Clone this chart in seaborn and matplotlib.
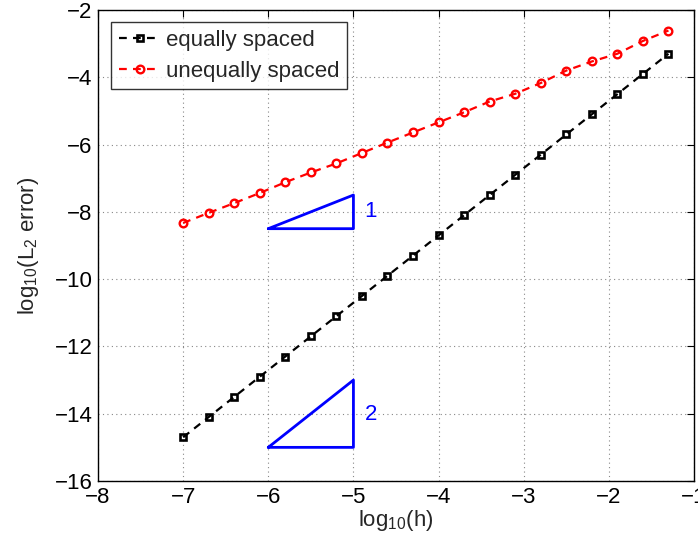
import numpy as np
import pandas as pd
import matplotlib
matplotlib.use("Agg")
import matplotlib.pyplot as plt
import seaborn as sns

log_h = [-7.0, -6.7, -6.4, -6.1, -5.8, -5.5, -5.2, -4.9, -4.6, -4.3,
         -4.0, -3.7, -3.4, -3.1, -2.8, -2.5, -2.2, -1.9, -1.6, -1.3]
err_equal = [-14.7, -14.1, -13.5, -12.9, -12.3, -11.7, -11.1, -10.5, -9.9, -9.3,
             -8.7, -8.1, -7.5, -6.9, -6.3, -5.7, -5.1, -4.5, -3.9, -3.3]
err_unequal = [-8.33, -8.03, -7.74, -7.44, -7.12, -6.83, -6.56, -6.25, -5.94, -5.64,
               -5.34, -5.04, -4.72, -4.49, -4.17, -3.80, -3.53, -3.30, -2.92, -2.61]
series_names = ["equally spaced", "unequally spaced"]
tri1_x = [-6, -5, -5, -6]
tri1_y = [-8.5, -8.5, -7.5, -8.5]
tri2_x = [-6, -5, -5, -6]
tri2_y = [-15, -15, -13, -15]
x_ticks = [-8, -7, -6, -5, -4, -3, -2, -1]
y_ticks = [-16, -14, -12, -10, -8, -6, -4, -2]

sns.set_style("white")
plt.rcParams['font.family'] = ['Liberation Sans', 'DejaVu Sans']
plt.rcParams['mathtext.fontset'] = 'custom'
plt.rcParams['mathtext.rm'] = 'Liberation Sans'
plt.rcParams['mathtext.it'] = 'Liberation Sans:italic'
plt.rcParams['axes.unicode_minus'] = True

FS = 16

fig = plt.figure(figsize=(6.98, 5.43), dpi=100)
ax = fig.add_axes([98/698, 62/543, 596/698, 471/543])

df_eq = pd.DataFrame({"x": log_h, "y": err_equal})
df_un = pd.DataFrame({"x": log_h, "y": err_unequal})

sns.lineplot(data=df_eq, x="x", y="y", ax=ax, color="black", linewidth=1.6,
             linestyle=(0, (3.5, 2.8)), marker="s", markersize=4.5,
             markerfacecolor="none", markeredgecolor="black", markeredgewidth=1.9,
             label=series_names[0])
sns.lineplot(data=df_un, x="x", y="y", ax=ax, color="red", linewidth=1.6,
             linestyle=(0, (3.5, 2.8)), marker="o", markersize=5.5,
             markerfacecolor="none", markeredgecolor="red", markeredgewidth=1.7,
             label=series_names[1])

ax.plot(tri1_x, tri1_y, color="blue", linewidth=2)
ax.plot(tri2_x, tri2_y, color="blue", linewidth=2)
ax.text(-4.87, -8.0, "1", color="blue", fontsize=FS, va="center", ha="left")
ax.text(-4.87, -14.03, "2", color="blue", fontsize=FS, va="center", ha="left")

ax.set_xlim(-8, -1)
ax.set_ylim(-16, -2)
ax.set_xticks(x_ticks)
ax.set_yticks(y_ticks)
ax.grid(True, linestyle=(0, (1, 3)), color="#888888", linewidth=0.8)
ax.tick_params(direction="in", length=5, width=0.8, top=True, right=True,
               labelsize=FS, colors="black", pad=4)
for s in ax.spines.values():
    s.set_color("black")
    s.set_linewidth(1.0)

ax.set_xlabel(r"log$_{10}$(h)", fontsize=FS, labelpad=0)
ax.set_ylabel(r"log$_{10}$(L$_2$ error)", fontsize=FS, labelpad=10)

leg = ax.legend(loc="upper left", bbox_to_anchor=(0.022, 0.975), fontsize=FS,
                frameon=True, fancybox=False, edgecolor="black", handlelength=1.9,
                handletextpad=0.2, borderpad=0.35, labelspacing=0.45, borderaxespad=0)
leg.get_frame().set_linewidth(1.0)

fig.savefig("out.png", dpi=100)
